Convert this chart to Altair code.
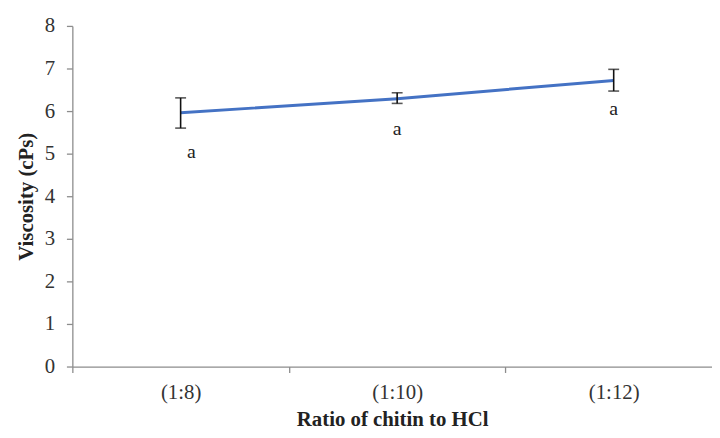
import altair as alt
import pandas as pd

categories = ["(1:8)", "(1:10)", "(1:12)"]
position = [0, 1, 2]
viscosity = [5.96, 6.29, 6.72]
err_low = [5.60, 6.18, 6.47]
err_high = [6.31, 6.43, 6.98]
letters = ["a", "a", "a"]
letter_x = [0.05, 1.0, 2.0]
letter_y = [5.03, 5.58, 6.05]
boundaries = [-0.5, 0.5, 1.5]

df = pd.DataFrame({
    "cat": categories, "pos": position, "v": viscosity,
    "lo": err_low, "hi": err_high,
    "letter": letters, "lx": letter_x, "ly": letter_y,
})

FONT = "Liberation Serif"
xscale = alt.Scale(domain=[-0.5, 2.454], nice=False, zero=False)
yscale = alt.Scale(domain=[0, 8], nice=False)

yaxis = alt.Axis(
    values=list(range(0, 9)), grid=False, title="Viscosity (cPs)",
    labelFont=FONT, labelFontSize=21, labelColor="#333333", labelPadding=12,
    titleFont=FONT, titleFontSize=21, titleFontWeight="bold", titleColor="#222222",
    titlePadding=8, domainColor="#8c8c8c", tickColor="#8c8c8c", tickSize=6,
    domainWidth=1.3, tickWidth=1.3,
)

# axis carrying tick marks at category boundaries
tick_axis = alt.Axis(
    values=boundaries, labels=False, title=None, grid=False, orient="bottom",
    domainColor="#8c8c8c", tickColor="#8c8c8c", tickSize=6,
    domainWidth=1.3, tickWidth=1.3,
)
# axis carrying category labels at centres
label_expr = "datum.value == 0 ? '(1:8)' : datum.value == 1 ? '(1:10)' : datum.value == 2 ? '(1:12)' : ''"
label_axis = alt.Axis(
    values=position, ticks=False, domain=False, grid=False, orient="bottom",
    labelExpr=label_expr, labelFont=FONT, labelFontSize=21, labelColor="#333333",
    labelPadding=15, title="Ratio of chitin to HCl", titleFont=FONT,
    titleFontSize=21, titleFontWeight="bold", titleColor="#222222", titlePadding=7,
)

base = alt.Chart(df)

line = base.mark_line(color="#4472C4", strokeWidth=3).encode(
    x=alt.X("pos:Q", scale=xscale, axis=tick_axis),
    y=alt.Y("v:Q", scale=yscale, axis=yaxis),
)

err = base.mark_rule(color="#111111", strokeWidth=1.6).encode(
    x=alt.X("pos:Q", scale=xscale, axis=label_axis),
    y=alt.Y("lo:Q", scale=yscale),
    y2="hi:Q",
)

cap_lo = base.mark_tick(color="#111111", orient="horizontal", size=11, thickness=1.6).encode(
    x=alt.X("pos:Q", scale=xscale, axis=None), y=alt.Y("lo:Q", scale=yscale)
)
cap_hi = base.mark_tick(color="#111111", orient="horizontal", size=11, thickness=1.6).encode(
    x=alt.X("pos:Q", scale=xscale, axis=None), y=alt.Y("hi:Q", scale=yscale)
)

text = base.mark_text(font=FONT, fontSize=20, color="#222222", baseline="middle").encode(
    x=alt.X("lx:Q", scale=xscale, axis=None), y=alt.Y("ly:Q", scale=yscale), text="letter:N"
)

chart = alt.layer(line, err, cap_lo, cap_hi, text).resolve_axis(x="independent").properties(
    width=646, height=344,
    autosize=alt.AutoSizeParams(type="none"),
    padding={"left": 65, "top": 16, "right": 0, "bottom": 62},
).configure_view(stroke=None)

chart.save("out.html", embed_options={"renderer": "svg", "actions": False})
